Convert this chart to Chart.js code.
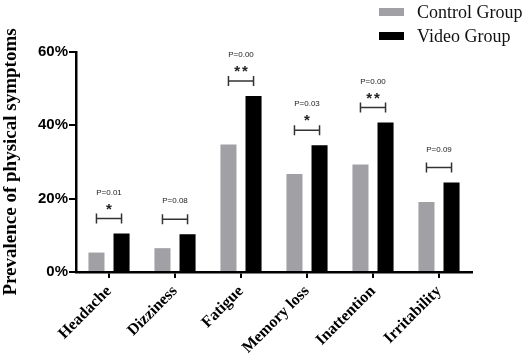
<!DOCTYPE html>
<html>
<head>
<meta charset="utf-8">
<script src="https://cdn.jsdelivr.net/npm/chart.js@4/dist/chart.umd.min.js"></script>
<style>
  html, body { margin: 0; padding: 0; background: #fff; }
  #wrap { width: 529px; height: 362px; position: relative; }
</style>
</head>
<body>
<div id="wrap"><canvas id="symptoms"></canvas></div>
<script>
// Data
var symptoms = ["Headache", "Dizziness", "Fatigue", "Memory loss", "Inattention", "Irritability"]
var controlGroup = [5.3, 6.5, 34.8, 26.7, 29.3, 19.1]
var videoGroup = [10.5, 10.3, 48.0, 34.6, 40.8, 24.4]
var pValues = ["P=0.01", "P=0.08", "P=0.00", "P=0.03", "P=0.00", "P=0.09"]
var stars = ["*", "", "**", "*", "**", ""]
var yTicks = [0, 20, 40, 60]

var grey = "#a1a0a5"
var black = "#000000"

// brackets + p values above each pair of bars
var sigPlugin = {
    id: "sig",
    afterDatasetsDraw: function(chart) {
        var ctx = chart.ctx
        var y = chart.scales.y
        var m0 = chart.getDatasetMeta(0)
        var m1 = chart.getDatasetMeta(1)
        ctx.save()
        for (var i = 0; i < symptoms.length; i++) {
            var x0 = m0.data[i].x
            var x1 = m1.data[i].x
            var top = y.getPixelForValue(Math.max(controlGroup[i], videoGroup[i])) - 15
            ctx.strokeStyle = "#333"
            ctx.lineWidth = 1.5
            ctx.beginPath()
            ctx.moveTo(x0, top); ctx.lineTo(x1, top)
            ctx.moveTo(x0, top - 5); ctx.lineTo(x0, top + 5)
            ctx.moveTo(x1, top - 5); ctx.lineTo(x1, top + 5)
            ctx.stroke()
            ctx.fillStyle = "#222"
            ctx.textAlign = "center"
            ctx.textBaseline = "middle"
            var xm = (x0 + x1) / 2
            if (stars[i]) {
                ctx.font = "bold 15px 'Liberation Sans', Arial, sans-serif"
                ctx.letterSpacing = "2px"
                ctx.fillText(stars[i], xm + 1, top - 9)
                ctx.letterSpacing = "0px"
                ctx.font = "8px 'Liberation Sans', Arial, sans-serif"
                ctx.fillText(pValues[i], xm, top - 26)
            } else {
                ctx.font = "8px 'Liberation Sans', Arial, sans-serif"
                ctx.fillText(pValues[i], xm, top - 18)
            }
        }
        ctx.restore()
    }
}

// legend stacked in the top right corner
var legendPlugin = {
    id: "sideLegend",
    afterDraw: function(chart) {
        var ctx = chart.ctx
        ctx.save()
        chart.data.datasets.forEach(function(ds, k) {
            var yy = 12 + k * 24
            ctx.fillStyle = ds.backgroundColor
            ctx.fillRect(379, yy - 4, 25, 8)
            ctx.fillStyle = "#111"
            ctx.font = "18px 'Liberation Serif', 'Times New Roman', serif"
            ctx.textAlign = "left"
            ctx.textBaseline = "middle"
            ctx.fillText(ds.label, 417, yy + 1)
        })
        ctx.restore()
    }
}

var ctx = document.getElementById('symptoms').getContext('2d')
var myChart = new Chart(ctx, {
    type: 'bar',
    data: {
        labels: symptoms,
        datasets: [{
            label: "Control Group",
            data: controlGroup,
            backgroundColor: grey,
            categoryPercentage: 0.76,
            barPercentage: 0.64
        }, {
            label: "Video Group",
            data: videoGroup,
            backgroundColor: black,
            categoryPercentage: 0.76,
            barPercentage: 0.64
        }]
    },
    options: {
        responsive: true,
        maintainAspectRatio: false,
        animation: false,
        layout: { padding: { top: 52, right: 57, left: 0, bottom: 0 } },
        plugins: {
            legend: { display: false },
            tooltip: { enabled: false }
        },
        scales: {
            x: {
                border: { color: black, width: 2.5 },
                grid: { display: true, offset: false, drawOnChartArea: false, tickLength: 6, color: black, lineWidth: 2 },
                ticks: {
                    color: black,
                    minRotation: 45,
                    maxRotation: 45,
                    padding: 4,
                    font: { family: "'Liberation Serif', 'Times New Roman', serif", size: 16, weight: "bold" }
                },
                afterFit: function(s) { s.height = 90 }
            },
            y: {
                min: 0,
                max: 60,
                afterBuildTicks: function(s) { s.ticks = yTicks.map(function(v) { return { value: v } }) },
                border: { color: black, width: 2.5 },
                grid: { display: true, drawOnChartArea: false, tickLength: 7, color: black, lineWidth: 2 },
                ticks: {
                    color: black,
                    padding: 1,
                    callback: function(v) { return v + "%" },
                    font: { family: "'Liberation Sans', Arial, sans-serif", size: 15, weight: "bold" }
                },
                title: {
                    display: true,
                    text: "Prevalence of physical symptoms",
                    color: black,
                    padding: { top: 0, bottom: 0 },
                    font: { family: "'Liberation Serif', 'Times New Roman', serif", size: 19, weight: "bold" }
                },
                afterFit: function(s) { s.width = 76 }
            }
        }
    },
    plugins: [sigPlugin, legendPlugin]
})
</script>
</body>
</html>
